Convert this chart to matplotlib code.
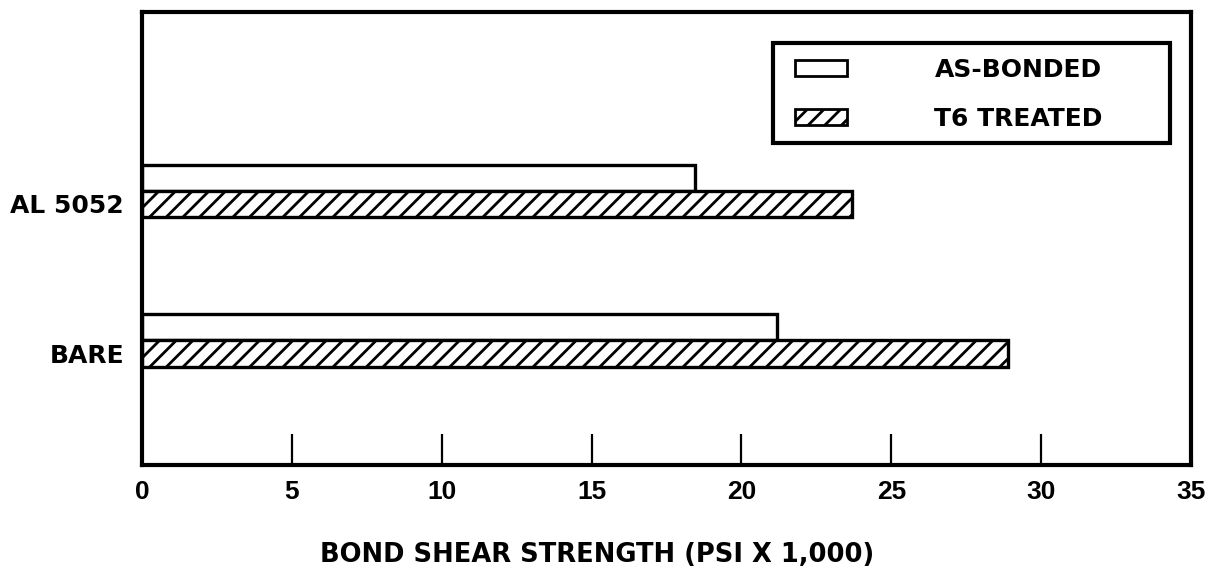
import numpy as np
import matplotlib
matplotlib.use("Agg")
import matplotlib.pyplot as plt
from matplotlib.patches import Patch, Rectangle

categories = ["BARE", "AL 5052"]
as_bonded = [21.2, 18.45]
t6_treated = [28.9, 23.7]
xticks = [0, 5, 10, 15, 20, 25, 30, 35]

plt.rcParams["font.family"] = ["DejaVu Sans"]
plt.rcParams["hatch.linewidth"] = 2.0

fig = plt.figure(figsize=(12.22, 5.71), dpi=100)
ax = fig.add_axes([0.1162, 0.1856, 0.9746 - 0.1162, 0.979 - 0.1856])

y = np.arange(len(categories))
h = 0.175
ax.barh(y + h, as_bonded, height=h, color="white", edgecolor="black", linewidth=2.4)
ax.barh(y, t6_treated, height=h, color="white", edgecolor="black", linewidth=2.4, hatch="//")

ax.set_xlim(0, 35)
ax.set_ylim(-0.746, 2.284)
ax.set_xticks(xticks)
ax.set_xticklabels([str(t) for t in xticks], fontsize=19, fontweight="bold",
                   family=["Liberation Sans", "DejaVu Sans"])
ax.set_yticks(y)
ax.set_yticklabels(categories, fontsize=18, fontweight="bold")
ax.tick_params(axis="x", direction="in", length=22, width=1.6, pad=11)
ax.tick_params(axis="y", length=0, pad=13)
for s in ax.spines.values():
    s.set_linewidth(3.0)

ax.set_xlabel("BOND SHEAR STRENGTH (PSI X 1,000)", fontsize=18.5, fontweight="bold")
ax.xaxis.set_label_coords(0.434, -0.199)
ax.xaxis.label.set_verticalalignment("center")

# legend: box drawn separately, entries placed inside it
box = Rectangle((773 / 1222, 1 - 143 / 571), (1170 - 773) / 1222, 100 / 571,
                transform=fig.transFigure, facecolor="white", edgecolor="black",
                linewidth=3.0, zorder=5)
fig.add_artist(box)
handles = [Patch(facecolor="white", edgecolor="black", linewidth=2.0, label="AS-BONDED"),
           Patch(facecolor="white", edgecolor="black", linewidth=2.0, hatch="//", label="T6 TREATED")]
leg = fig.legend(handles=handles, loc="upper left", bbox_to_anchor=(795 / 1222, 1 - 58 / 571),
                 frameon=False, prop={"weight": "bold", "size": 18},
                 handlelength=2.08, handleheight=0.6, handletextpad=3.5, borderpad=0,
                 labelspacing=0.98, borderaxespad=0)
leg.set_zorder(6)

fig.savefig("out.png", dpi=100)
